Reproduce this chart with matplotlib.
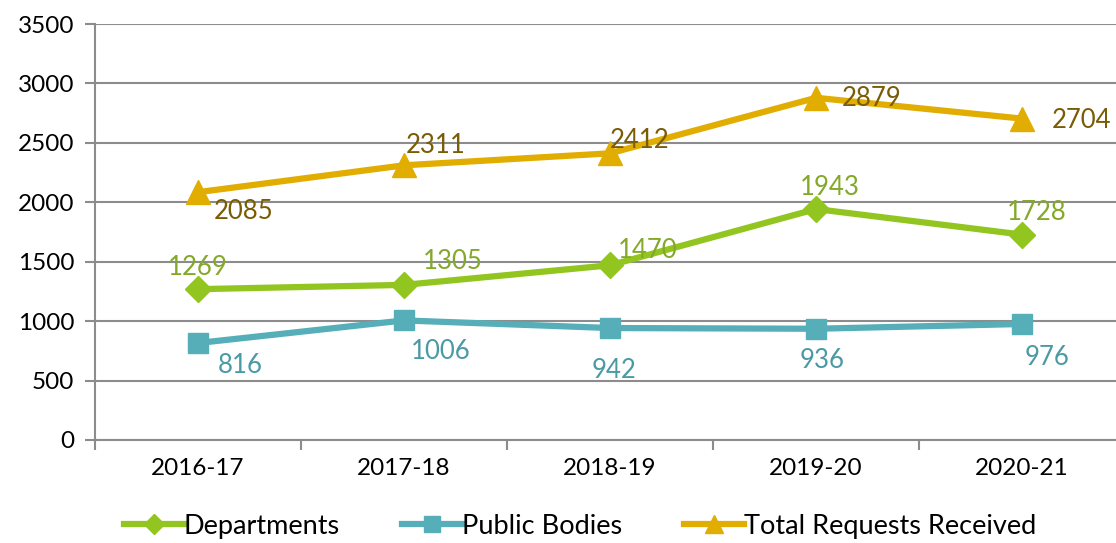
import matplotlib
matplotlib.use("Agg")
import matplotlib.pyplot as plt

years = ['2016-17', '2017-18', '2018-19', '2019-20', '2020-21']
departments = [1269, 1305, 1470, 1943, 1728]
public_bodies = [816, 1006, 942, 936, 976]
total_requests = [2085, 2311, 2412, 2879, 2704]

# label offsets in pixels (dx, dy), screen up = positive
dep_off = [(0, 22), (49, 23), (38, 15), (14, 22), (15, 22)]
pub_off = [(42, -22), (37, -31), (4, -42), (6, -32), (25, -34)]
tot_off = [(46, -19), (32, 20), (30, 13), (56, -1), (59, -2)]

plt.rcParams['font.family'] = ['Lato', 'DejaVu Sans']

fig = plt.figure(figsize=(11.16, 5.43), dpi=100)
ax = fig.add_axes([0.0851, 0.1897, 0.9149, 0.7661])

x = list(range(len(years)))
grid_c = '#8c8c8c'

series = [
    ('Departments', departments, '#92C51F', '#84A82A', 'D', 13, dep_off),
    ('Public Bodies', public_bodies, '#55AEB8', '#4A9AA4', 's', 15, pub_off),
    ('Total Requests Received', total_requests, '#E1AD01', '#7A5C05', '^', 17, tot_off),
]

for name, vals, c, tc, m, ms, offs in series:
    ax.plot(x, vals, color=c, lw=4.5, marker=m, ms=ms, label=name, zorder=3)
    for xi, v, (dx, dy) in zip(x, vals, offs):
        ax.annotate(str(v), (xi, v), xytext=(dx, dy), textcoords='offset pixels',
                    ha='center', va='center', color=tc, fontsize=18.5, zorder=4)

ax.set_xlim(-0.5, 4.456)
ax.set_ylim(0, 3500)
ax.set_yticks(range(0, 3501, 500))
ax.set_xticks(x)
ax.set_xticklabels(years)
ax.set_xticks([i + 0.5 for i in range(-1, 4)], minor=True)

ax.grid(axis='y', color=grid_c, lw=1.5, zorder=0)
for s in ['top', 'right']:
    ax.spines[s].set_visible(False)
for s in ['left', 'bottom']:
    ax.spines[s].set_color(grid_c)
    ax.spines[s].set_linewidth(1.5)

ax.tick_params(axis='y', length=7, width=1.5, color=grid_c, labelsize=17.5, pad=8)
ax.tick_params(axis='x', which='major', length=0, labelsize=17.5, pad=13)
ax.tick_params(axis='x', which='minor', length=7, width=1.5, color=grid_c)

fig.legend(loc='lower center', bbox_to_anchor=(0.52, -0.037), ncol=3, frameon=False,
           fontsize=19.5, handlelength=2.2, handletextpad=0.0, columnspacing=2.3, markerscale=0.8)

fig.savefig('out.png', dpi=100)
